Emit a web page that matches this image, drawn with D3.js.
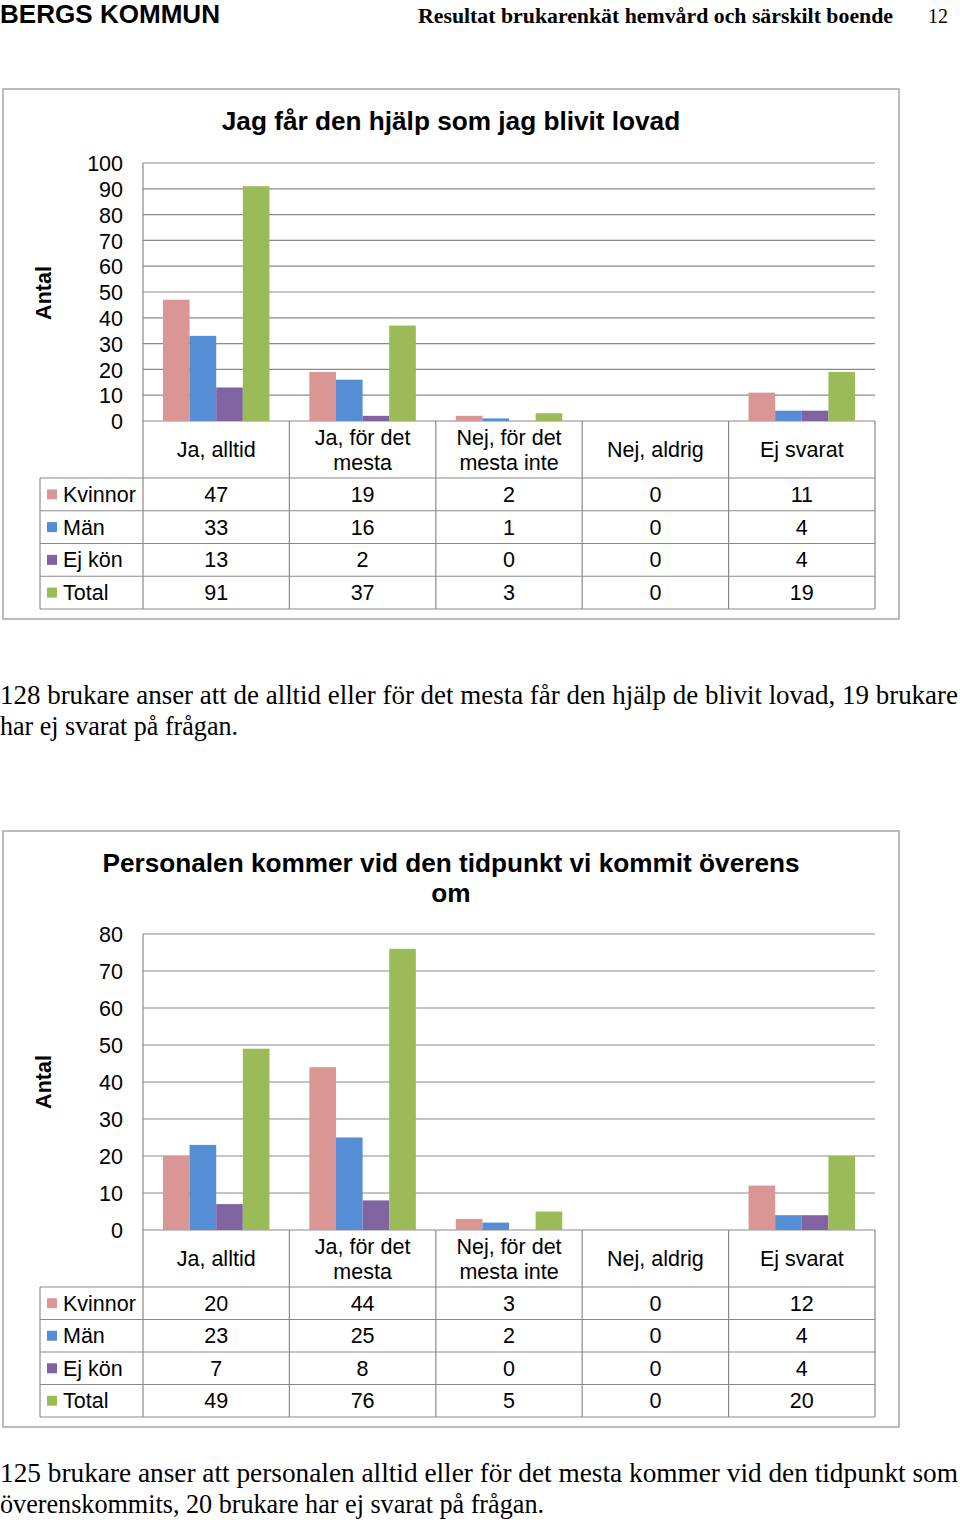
<!DOCTYPE html>
<html><head><meta charset="utf-8">
<script src="https://cdnjs.cloudflare.com/ajax/libs/d3/7.8.5/d3.min.js"></script>
<style>
html,body{margin:0;padding:0;background:#fff;}
svg{display:block;}
</style></head>
<body>
<script>
// ---- Data ----
const categories = ["Ja, alltid", "Ja, för det mesta", "Nej, för det mesta inte", "Nej, aldrig", "Ej svarat"];
const categoryLines = [["Ja, alltid"], ["Ja, för det", "mesta"], ["Nej, för det", "mesta inte"], ["Nej, aldrig"], ["Ej svarat"]];
const seriesNames = ["Kvinnor", "Män", "Ej kön", "Total"];
const seriesColors = ["#D99694", "#558ED5", "#8064A2", "#9BBB59"];

const chart1Title = ["Jag får den hjälp som jag blivit lovad"];
const chart1Kvinnor = [47, 19, 2, 0, 11];
const chart1Man = [33, 16, 1, 0, 4];
const chart1EjKon = [13, 2, 0, 0, 4];
const chart1Total = [91, 37, 3, 0, 19];
const chart1Ticks = [0, 10, 20, 30, 40, 50, 60, 70, 80, 90, 100];

const chart2Title = ["Personalen kommer vid den tidpunkt vi kommit överens", "om"];
const chart2Kvinnor = [20, 44, 3, 0, 12];
const chart2Man = [23, 25, 2, 0, 4];
const chart2EjKon = [7, 8, 0, 0, 4];
const chart2Total = [49, 76, 5, 0, 20];
const chart2Ticks = [0, 10, 20, 30, 40, 50, 60, 70, 80];

const headerLeft = "BERGS KOMMUN";
const headerRight = "Resultat brukarenkät hemvård och särskilt boende";
const pageNumber = "12";
const text1 = ["128 brukare anser att de alltid eller för det mesta får den hjälp de blivit lovad, 19 brukare", "har ej svarat på frågan."];
const text2 = ["125 brukare anser att personalen alltid eller för det mesta kommer vid den tidpunkt som", "överenskommits, 20 brukare har ej svarat på frågan."];

// ---- Drawing ----
const W = 960, H = 1522;
const svg = d3.select("body").append("svg").attr("width", W).attr("height", H);
const SANS = "Arial, 'Liberation Sans', sans-serif";
const SERIF = "'Times New Roman', 'Liberation Serif', serif";
const GRID = "#8a8a8a";
const FS = 21.5;

// Header
svg.append("text").attr("x", 0).attr("y", 23).attr("font-family", SANS).attr("font-weight", "bold")
  .attr("font-size", 26).attr("textLength", 220).attr("lengthAdjust", "spacingAndGlyphs").text(headerLeft);
svg.append("text").attr("x", 418).attr("y", 23).attr("font-family", SERIF).attr("font-weight", "bold")
  .attr("font-size", 22).attr("textLength", 475).attr("lengthAdjust", "spacingAndGlyphs").text(headerRight);
svg.append("text").attr("x", 928).attr("y", 23).attr("font-family", SERIF)
  .attr("font-size", 22).attr("textLength", 20).attr("lengthAdjust", "spacingAndGlyphs").text(pageNumber);

function paragraph(lines, y0, widths) {
  lines.forEach((l, i) => {
    svg.append("text").attr("x", 0).attr("y", y0 + i * 31).attr("font-family", SERIF)
      .attr("font-size", 27).attr("textLength", widths[i]).attr("lengthAdjust", "spacingAndGlyphs").text(l);
  });
}
paragraph(text1, 704, [958, 238]);
paragraph(text2, 1482, [958, 544]);

function drawChart(cfg) {
  const g = svg.append("g");
  const series = [cfg.kvinnor, cfg.man, cfg.ejkon, cfg.total];
  // outer frame
  g.append("rect").attr("x", cfg.box[0]).attr("y", cfg.box[1]).attr("width", cfg.box[2] - cfg.box[0])
    .attr("height", cfg.box[3] - cfg.box[1]).attr("fill", "#fff").attr("stroke", "#a6a6a6").attr("stroke-width", 1.5);
  // title
  cfg.title.forEach((t, i) => {
    g.append("text").attr("x", 451).attr("y", cfg.titleY + i * 30).attr("text-anchor", "middle")
      .attr("font-family", SANS).attr("font-weight", "bold").attr("font-size", 26.2).text(t);
  });
  const x = d3.scaleBand().domain(categories).range([143, 875]).paddingInner(0).paddingOuter(0);
  const xs = d3.scaleBand().domain(seriesNames).range([0, x.bandwidth()]).paddingInner(0).paddingOuter(0.75);
  const y = d3.scaleLinear().domain([0, cfg.ticks[cfg.ticks.length - 1]]).range([cfg.y0, cfg.yTop]);

  // gridlines
  g.append("g").selectAll("line").data(cfg.ticks).join("line")
    .attr("x1", 143).attr("x2", 875).attr("y1", d => y(d)).attr("y2", d => y(d))
    .attr("stroke", GRID).attr("stroke-width", 1.2);
  // y axis line
  g.append("line").attr("x1", 143).attr("x2", 143).attr("y1", cfg.yTop).attr("y2", cfg.y0)
    .attr("stroke", GRID).attr("stroke-width", 1.2);
  // tick labels via axis
  const ax = g.append("g").attr("transform", "translate(123,0)")
    .call(d3.axisLeft(y).tickValues(cfg.ticks).tickSize(0).tickPadding(0).tickFormat(d3.format("d")));
  ax.select(".domain").remove();
  ax.selectAll("text").attr("font-family", SANS).attr("font-size", FS).attr("fill", "#000").attr("dy", "0.36em");

  // Antal
  g.append("text").attr("transform", `translate(51,${cfg.antalY}) rotate(-90)`).attr("text-anchor", "middle")
    .attr("font-family", SANS).attr("font-weight", "bold").attr("font-size", 21.5).text("Antal");

  // bars
  categories.forEach((c, ci) => {
    seriesNames.forEach((s, si) => {
      const v = series[si][ci];
      if (v <= 0) return;
      g.append("rect").attr("x", x(c) + xs(s)).attr("width", xs.bandwidth())
        .attr("y", y(v)).attr("height", y(0) - y(v)).attr("fill", seriesColors[si]);
    });
  });

  // table
  const ty = cfg.y0, hh = 57, rh = cfg.rowH;
  const tb = g.append("g");
  const bx = x.domain().map(d => x(d)).concat([875]);
  bx.forEach(xx => tb.append("line").attr("x1", xx).attr("x2", xx).attr("y1", ty).attr("y2", ty + hh + 4 * rh)
    .attr("stroke", GRID).attr("stroke-width", 1.2));
  tb.append("line").attr("x1", 40).attr("x2", 40).attr("y1", ty + hh).attr("y2", ty + hh + 4 * rh)
    .attr("stroke", GRID).attr("stroke-width", 1.2);
  for (let r = 0; r <= 4; r++) {
    tb.append("line").attr("x1", 40).attr("x2", 875).attr("y1", ty + hh + r * rh).attr("y2", ty + hh + r * rh)
      .attr("stroke", GRID).attr("stroke-width", 1.2);
  }
  categories.forEach((c, ci) => {
    const lines = categoryLines[ci];
    const cx = x(c) + x.bandwidth() / 2;
    lines.forEach((l, li) => {
      const yy = lines.length === 1 ? ty + hh / 2 + 7.5 : ty + 24 + li * 25;
      tb.append("text").attr("x", cx).attr("y", yy).attr("text-anchor", "middle")
        .attr("font-family", SANS).attr("font-size", FS).text(l);
    });
    seriesNames.forEach((s, si) => {
      tb.append("text").attr("x", cx).attr("y", ty + hh + si * rh + rh / 2 + 7.5).attr("text-anchor", "middle")
        .attr("font-family", SANS).attr("font-size", FS).text(series[si][ci]);
    });
  });
  seriesNames.forEach((s, si) => {
    const ry = ty + hh + si * rh + rh / 2;
    tb.append("rect").attr("x", 47).attr("y", ry - 5).attr("width", 10).attr("height", 10).attr("fill", seriesColors[si]);
    tb.append("text").attr("x", 63).attr("y", ry + 7.5).attr("font-family", SANS).attr("font-size", FS).text(s);
  });
}

drawChart({box: [3, 89, 899, 619], title: chart1Title, titleY: 130, ticks: chart1Ticks, yTop: 163, y0: 421, rowH: 32.75,
  antalY: 293, kvinnor: chart1Kvinnor, man: chart1Man, ejkon: chart1EjKon, total: chart1Total});
drawChart({box: [3, 831, 899, 1427], title: chart2Title, titleY: 872, ticks: chart2Ticks, yTop: 934, y0: 1230, rowH: 32.5,
  antalY: 1082, kvinnor: chart2Kvinnor, man: chart2Man, ejkon: chart2EjKon, total: chart2Total});
</script>
</body></html>
